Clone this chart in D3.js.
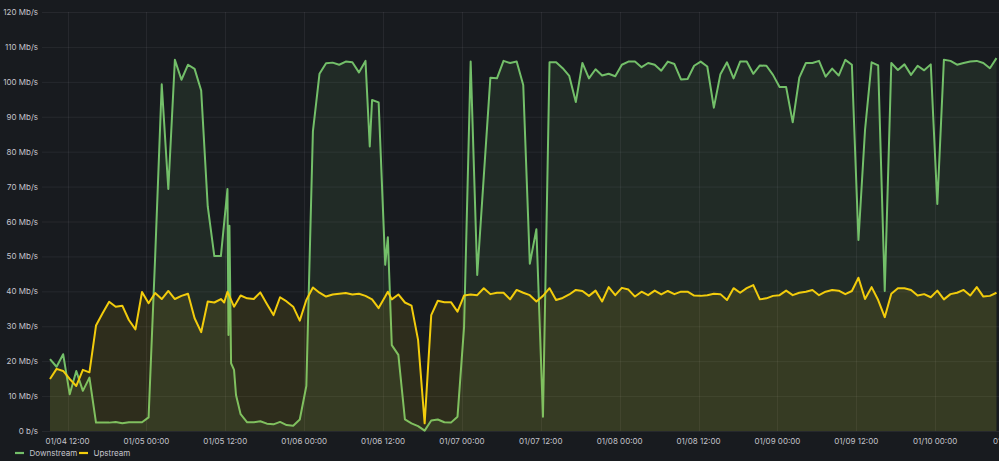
<!DOCTYPE html>
<html><head><meta charset="utf-8">
<script src="https://cdn.jsdelivr.net/npm/d3@7"></script>
<style>html,body{margin:0;padding:0;background:#181b1f;overflow:hidden}svg{display:block}</style>
</head><body><svg id="c" width="999" height="461"></svg>
<script>
// ---------- data ----------
const seriesNames = ["Downstream", "Upstream"];
const seriesColors = ["#73BF69", "#F2CC0C"];
const startTime = "2022-01-04 09:20";   // first sample
const endTime = "2022-01-10 09:43";     // right edge of the panel
const xTickLabels = ["2022-01-04 12:00","2022-01-05 00:00","2022-01-05 12:00","2022-01-06 00:00",
  "2022-01-06 12:00","2022-01-07 00:00","2022-01-07 12:00","2022-01-08 00:00","2022-01-08 12:00",
  "2022-01-09 00:00","2022-01-09 12:00","2022-01-10 00:00","2022-01-10 12:00"];
const yTicks = [0,10,20,30,40,50,60,70,80,90,100,110,120];

// hourly samples (Mb/s), one per hour from startTime
const downstreamHourly = [
  20.6,18.4,22.0,10.5,17.2,11.5,15.3,2.4,2.4,2.4,
  2.6,2.2,2.5,2.5,2.5,3.9,50,99.3,69.3,106.3,
  100.6,104.9,103.7,97.5,64.3,50.1,50.1,69.3,17.5,4.8,
  2.5,2.5,2.8,2.1,1.9,2.6,1.7,1.5,3.3,12.9,
  85.8,102.3,105.3,105.5,104.9,105.8,105.6,102.7,106.0,94.8,
  94.1,47.6,24.6,21.8,3.3,2.2,1.4,0.1,3.0,3.3,
  2.5,2.4,4.1,29.9,105.8,44.7,73,101.2,101.0,106.0,
  105.4,105.8,99.1,47.9,57.8,4.1,105.6,105.6,103.9,101.7,
  94.2,105.4,101.0,103.6,101.8,102.3,101.6,104.9,105.8,105.8,
  104.2,105.4,104.9,103.2,105.8,105.1,100.7,100.8,104.6,105.8,
  104.4,92.6,102.2,105.6,101.0,105.8,105.8,102.3,104.7,104.6,
  102.0,98.5,98.5,88.4,101.2,105.4,105.4,106.0,101.5,103.8,
  101.8,106.3,104.9,54.7,86.2,105.6,104.7,40.1,105.4,103.4,
  105.0,102.0,104.6,103.3,105.0,65.0,106.3,106.0,104.9,105.4,
  105.8,106.0,105.4,103.9,106.8
];
const downstreamExtraHours = [27.15, 27.3, 27.55, 28.3, 48.65, 51.4];
const downstreamExtraValues = [27.5, 58.8, 19.4, 10.3, 81.5, 55.5];

const upstreamHourly = [
  14.9,17.8,17.2,14.9,12.9,17.5,16.8,30.2,33.7,37.0,
  35.6,35.9,31.8,29.1,39.8,36.6,39.5,37.8,40.1,37.8,
  38.7,39.3,32.3,28.3,37.1,36.8,37.8,39.9,35.6,38.8,
  38.0,37.8,39.7,36.4,33.2,38.3,37.1,35.6,31.6,37.5,
  41.1,39.6,38.5,39.1,39.3,39.5,39.1,39.3,38.7,37.7,
  35.2,38.5,37.7,39.1,36.8,35.9,26.1,2.2,33.2,37.3,
  36.9,36.9,34.2,38.8,39.1,38.9,40.9,39.2,39.6,39.6,
  37.7,40.4,39.6,38.9,37.1,38.7,40.9,37.5,38.1,39.1,
  40.4,40.1,38.7,40.2,37.1,41.2,38.9,41.0,40.5,38.5,
  39.9,38.9,40.2,39.1,40.1,39.2,39.9,39.9,38.8,38.7,
  38.9,39.3,39.2,37.5,40.9,39.6,40.9,41.8,37.7,38.0,
  38.7,38.9,40.2,38.9,39.6,39.9,40.4,38.9,39.9,40.4,
  40.2,39.2,40.1,43.9,37.8,41.2,37.5,32.6,39.3,40.9,
  40.9,40.4,38.8,39.2,38.3,40.2,37.7,39.2,39.6,40.4,
  38.8,41.2,38.5,38.7,39.6
];
const upstreamExtraHours = [26.5, 51.4];
const upstreamExtraValues = [36.8, 39.9];

// ---------- build ----------
const parse = d3.timeParse("%Y-%m-%d %H:%M");
const t0 = parse(startTime);
const hourToDate = h => new Date(t0.getTime() + h * 3600000);
function buildSeries(hourly, exH, exV) {
  const pts = hourly.map((v, i) => ({t: hourToDate(i), v}));
  exH.forEach((h, i) => pts.push({t: hourToDate(h), v: exV[i]}));
  pts.sort((a, b) => a.t - b.t);
  return pts;
}
const series = [
  buildSeries(downstreamHourly, downstreamExtraHours, downstreamExtraValues),
  buildSeries(upstreamHourly, upstreamExtraHours, upstreamExtraValues)
];

const W = 999, H = 461;
const plotLeft = 50, plotRight = 999, gridLeft = 42;
const plotTop = 12, plotBottom = 431;
const x = d3.scaleTime().domain([t0, parse(endTime)]).range([plotLeft, plotRight]);
const y = d3.scaleLinear().domain([0, 120]).range([plotBottom, plotTop]);

const svg = d3.select("#c");
svg.append("rect").attr("width", W).attr("height", H).attr("fill", "#181b1f");

const FONT = "Inter, 'Noto Sans', sans-serif";
const FS = 8;
const textColor = "#c4c4cc";
const gridColor = "rgba(204,204,220,0.08)";

// grid
const g = svg.append("g");
g.selectAll("line.h").data(yTicks).join("line")
  .attr("x1", gridLeft).attr("x2", plotRight)
  .attr("y1", d => y(d) + 0.5).attr("y2", d => y(d) + 0.5)
  .attr("stroke", gridColor).attr("stroke-width", 1);
const xTicks = xTickLabels.map(parse);
g.selectAll("line.v").data(xTicks).join("line")
  .attr("x1", d => Math.round(x(d)) + 0.5).attr("x2", d => Math.round(x(d)) + 0.5)
  .attr("y1", plotTop).attr("y2", plotBottom)
  .attr("stroke", gridColor).attr("stroke-width", 1);

// axis labels
svg.append("g").selectAll("text").data(yTicks).join("text")
  .attr("x", 38).attr("y", d => y(d))
  .attr("text-anchor", "end").attr("dominant-baseline", "central")
  .attr("font-family", FONT).attr("font-size", FS).attr("fill", textColor)
  .text(d => d === 0 ? "0 b/s" : d + " Mb/s");

const fmt = d3.timeFormat("%m/%d %H:%M");
svg.append("g").selectAll("text").data(xTicks).join("text")
  .attr("x", d => x(d)).attr("y", 440.5)
  .attr("text-anchor", "middle").attr("dominant-baseline", "central")
  .attr("font-family", FONT).attr("font-size", FS).attr("fill", textColor)
  .text(d => fmt(d));

// series
const area = d3.area().x(d => x(d.t)).y0(y(0)).y1(d => y(d.v));
const line = d3.line().x(d => x(d.t)).y(d => y(d.v));
series.forEach((pts, i) => {
  svg.append("path").datum(pts).attr("d", area)
    .attr("fill", seriesColors[i]).attr("fill-opacity", 0.1);
  svg.append("path").datum(pts).attr("d", line)
    .attr("fill", "none").attr("stroke", seriesColors[i])
    .attr("stroke-width", 2).attr("stroke-linejoin", "round");
});

// legend
const legendX = [15, 79];
const leg = svg.append("g");
seriesNames.forEach((name, i) => {
  leg.append("line").attr("x1", legendX[i]).attr("x2", legendX[i] + 9)
    .attr("y1", 453).attr("y2", 453)
    .attr("stroke", seriesColors[i]).attr("stroke-width", 2.2);
  leg.append("text").attr("x", legendX[i] + 14.5).attr("y", 453)
    .attr("dominant-baseline", "central")
    .attr("font-family", FONT).attr("font-size", FS).attr("fill", textColor)
    .text(name);
});
</script></body></html>
